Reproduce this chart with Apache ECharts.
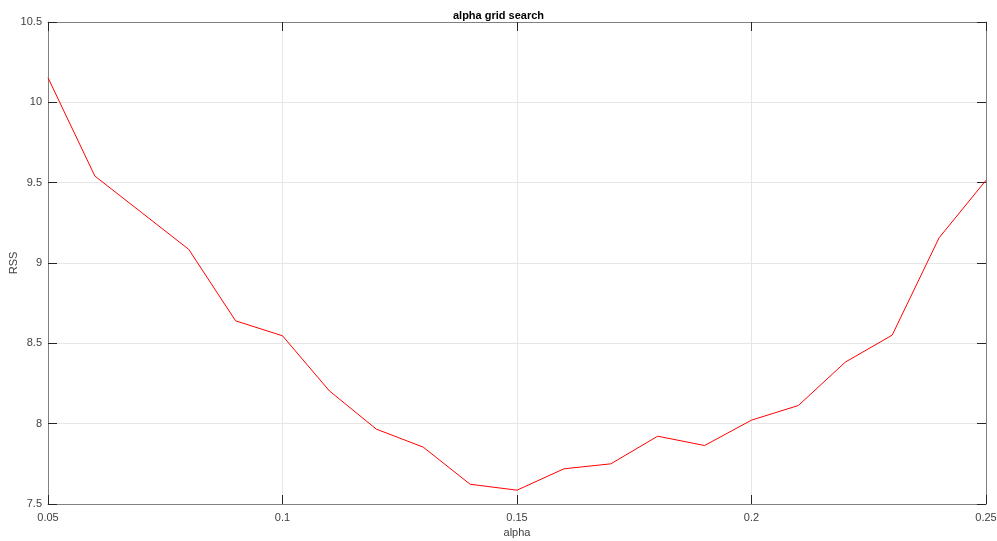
<!DOCTYPE html>
<html><head><meta charset="utf-8">
<script src="https://cdn.jsdelivr.net/npm/echarts@6/dist/echarts.min.js"></script>
<style>html,body{margin:0;padding:0;background:#fff}#c{width:997px;height:541px}</style>
</head><body><div id="c"></div>
<script>
const alphaValues = [0.05,0.06,0.07,0.08,0.09,0.10,0.11,0.12,0.13,0.14,0.15,0.16,0.17,0.18,0.19,0.20,0.21,0.22,0.23,0.24,0.25];
const rssValues = [10.153,9.541,9.313,9.085,8.64,8.547,8.204,7.966,7.854,7.623,7.586,7.719,7.750,7.922,7.864,8.022,8.113,8.383,8.551,9.157,9.515];
const xTicks = [0.05,0.1,0.15,0.2,0.25];
const yTicks = [7.5,8,8.5,9,9.5,10,10.5];
const titleText = 'alpha grid search';
const xName = 'alpha';
const yName = 'RSS';

const chart = echarts.init(document.getElementById('c'), null, {renderer:'canvas'});
const font = 'Helvetica, Arial, "Liberation Sans", sans-serif';
const boxColor = '#808080';
const tickColor = '#262626';
const labelColor = '#404040';
const gridColor = '#e6e6e6';
const fmtX = v => String(+(+v).toFixed(2));
const fmtY = v => String(+(+v).toFixed(2));
chart.setOption({
  animation:false,
  title:{text:titleText,left:'center',top:5,textStyle:{fontFamily:font,fontSize:11,fontWeight:'bold',color:'#000'}},
  grid:{left:48,right:11,top:22,bottom:37,containLabel:false,outerBoundsMode:'none'},
  xAxis:[{
    type:'value',min:xTicks[0],max:xTicks[xTicks.length-1],interval:0.05,
    name:xName,nameLocation:'middle',nameGap:23,nameMoveOverlap:false,
    nameTextStyle:{fontFamily:font,fontSize:11,color:labelColor},
    axisLine:{show:true,lineStyle:{color:boxColor,width:1}},
    axisTick:{show:true,inside:true,length:9,lineStyle:{color:tickColor}},
    axisLabel:{formatter:fmtX,margin:8,fontFamily:font,fontSize:11,color:labelColor},
    splitLine:{show:true,lineStyle:{color:gridColor,width:1}}
  },{
    type:'value',position:'top',min:xTicks[0],max:xTicks[xTicks.length-1],interval:0.05,
    axisLine:{show:true,lineStyle:{color:boxColor,width:1}},
    axisTick:{show:true,inside:true,length:9,lineStyle:{color:tickColor}},
    axisLabel:{show:false},splitLine:{show:false}
  }],
  yAxis:[{
    type:'value',min:yTicks[0],max:yTicks[yTicks.length-1],interval:0.5,
    name:yName,nameLocation:'middle',nameGap:29,nameMoveOverlap:false,
    nameTextStyle:{fontFamily:font,fontSize:11,color:labelColor},
    axisLine:{show:true,lineStyle:{color:boxColor,width:1}},
    axisTick:{show:true,inside:true,length:9,lineStyle:{color:tickColor}},
    axisLabel:{formatter:fmtY,margin:6,fontFamily:font,fontSize:11,color:labelColor},
    splitLine:{show:true,lineStyle:{color:gridColor,width:1}}
  },{
    type:'value',position:'right',min:yTicks[0],max:yTicks[yTicks.length-1],interval:0.5,
    axisLine:{show:true,lineStyle:{color:boxColor,width:1}},
    axisTick:{show:true,inside:true,length:9,lineStyle:{color:tickColor}},
    axisLabel:{show:false},splitLine:{show:false}
  }],
  series:[{
    type:'line',xAxisIndex:0,yAxisIndex:0,
    data:alphaValues.map((a,i)=>[a,rssValues[i]]),
    showSymbol:false,symbol:'none',smooth:false,
    lineStyle:{color:'#ff0000',width:1},
    clip:true
  }]
});
</script></body></html>
